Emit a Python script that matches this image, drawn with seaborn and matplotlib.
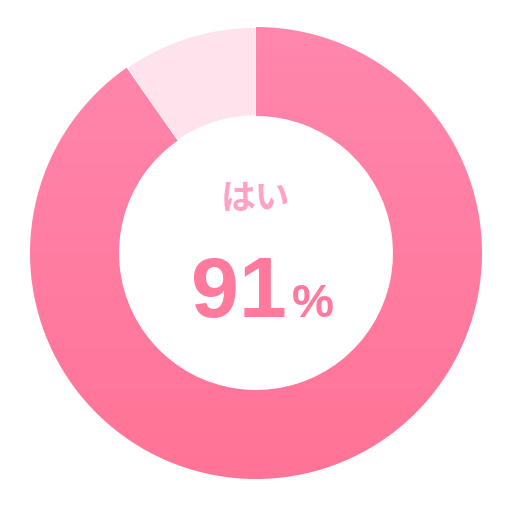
import numpy as np
import matplotlib
matplotlib.use('Agg')
import matplotlib.pyplot as plt
import seaborn as sns

sns.set_theme(style='white')
plt.rcParams['font.family'] = ['Liberation Sans', 'Noto Sans CJK JP', 'DejaVu Sans']

# data
labels = ['はい', 'いいえ']
shares = [90.3, 9.7]
center_label = 'はい'
center_value = '91'

ring_top = '#ff87ae'
ring_bottom = '#ff7396'
light_pink = '#ffe3ec'

W, H = 507, 509
fig = plt.figure(figsize=(W / 100, H / 100), dpi=100)
fig.patch.set_facecolor('white')

# donut centred at (256, 253) px, outer radius 226 px
cx, cy, R = 256, 253, 226
ax = fig.add_axes([(cx - R) / W, (H - cy - R) / H, 2 * R / W, 2 * R / H])
wedges, _ = ax.pie(shares, startangle=90, counterclock=False,
                   colors=[ring_bottom, light_pink], radius=1,
                   wedgeprops=dict(width=0.394, edgecolor='white', linewidth=1.2))
ax.axis('off')

# vertical gradient on the main slice
grad = np.linspace(0, 1, 256).reshape(-1, 1)
cmap = matplotlib.colors.LinearSegmentedColormap.from_list('ring', [ring_bottom, ring_top])
img = ax.imshow(grad, cmap=cmap, extent=(-1, 1, -1, 1), origin='lower',
                aspect='auto', zorder=wedges[0].get_zorder() + 0.1)
img.set_clip_path(wedges[0])
ax.set_xlim(-1, 1)
ax.set_ylim(-1, 1)

fig.text(256 / W, 1 - 198 / H, center_label, color='#ffa3c3', fontsize=25,
         fontweight='bold', ha='center', va='center',
         family=['Noto Sans CJK JP', 'DejaVu Sans'])
fig.text(287 / W, 1 - 317 / H, center_value, color='#ff7a9c', fontsize=62,
         fontweight='bold', ha='right', va='baseline')
fig.text(292 / W, 1 - 317 / H, '%', color='#ff7a9c', fontsize=34,
         fontweight='bold', ha='left', va='baseline')

fig.savefig('out.png', dpi=100, facecolor='white')
